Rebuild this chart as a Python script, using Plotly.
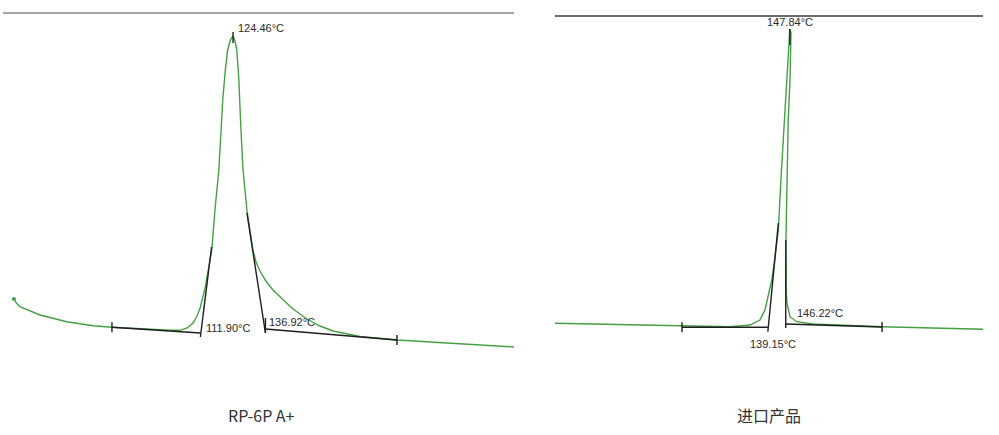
import plotly.graph_objects as go

# DSC curves: temperature (°C) vs heat flow (arb. units)

# left sample: RP-6P A+
left_temp = [40.2, 41.0, 42.5, 50.2, 60.5, 70.7, 77.9, 92.5, 100.2, 104.1, 106.8, 109.1,
             110.6, 111.8, 113.7, 116.3, 117.5, 119.0, 119.9, 120.5, 121.5, 122.4, 123.4,
             124.46, 125.2, 125.9, 126.7, 127.1, 127.5, 128.3, 129.8, 132.1, 133.3, 134.8,
             137.1, 139.8, 143.7, 147.5, 152.9, 157.9, 162.9, 173.3, 187.5, 207.9, 232.5]
left_flow = [13.6, 13.25, 12.83, 12.0, 11.33, 10.93, 10.77, 10.55, 10.47, 10.47, 10.7, 11.2,
             11.9, 12.7, 14.7, 18.5, 22.5, 26.5, 30.5, 33.5, 36.5, 38.5, 39.5,
             39.9, 39.4, 38.5, 35.5, 32.5, 30.5, 26.5, 22.5, 18.5, 17.3, 16.4,
             15.4, 14.5, 13.5, 12.6, 11.6, 10.9, 10.4, 9.85, 9.5, 9.15, 8.8]

# tangent / baseline construction (None = break)
left_fit_temp = [77.9, 111.9, None, 77.9, 77.9, None, 111.9, 116.2, None,
                 129.8, 136.92, None, 136.92, 136.92, None, 136.92, 187.5, None,
                 187.5, 187.5, None, 124.46, 124.46]
left_fit_flow = [10.77, 10.2, None, 10.27, 11.27, None, 9.8, 18.8, None,
                 22.2, 10.2, None, 10.2, 11.7, None, 10.6, 9.5, None,
                 9.0, 10.0, None, 39.2, 40.3]

left_labels = ["124.46°C", "111.90°C", "136.92°C"]
left_label_temp = [125.6, 113.3, 137.5]
left_label_flow = [40.7, 10.7, 11.3]

# right sample: imported product
right_temp = [55.0, 80.7, 105.2, 124.2, 132.1, 136.0, 138.0, 139.3, 140.7, 142.0, 143.3,
              144.3, 145.5, 146.7, 147.5, 147.84, 148.3, 147.9, 147.2, 146.7, 146.3,
              146.4, 146.7, 147.9, 150.5, 157.0, 171.6, 184.3, 224.2]
right_flow = [11.17, 11.07, 10.95, 10.83, 11.0, 11.5, 12.5, 13.8, 15.5, 17.8, 20.5,
              25.5, 30.5, 35.5, 39.0, 40.6, 40.2, 35.5, 31.5, 25.5, 19.5,
              14.5, 13.2, 11.83, 11.33, 11.1, 10.93, 10.83, 10.57]

right_fit_temp = [105.2, 139.15, None, 105.2, 105.2, None, 139.15, 143.3, None,
                  146.22, 146.25, None, 146.22, 184.3, None, 184.3, 184.3, None,
                  147.84, 147.84]
right_fit_flow = [10.77, 10.77, None, 10.27, 11.27, None, 10.33, 21.2, None,
                  10.7, 19.5, None, 11.1, 10.8, None, 10.3, 11.3, None,
                  39.0, 40.6]

right_labels = ["147.84°C", "146.22°C", "139.15°C"]
right_label_temp = [147.84, 149.9, 141.3]
right_label_flow = [41.35, 12.17, 9.1]

titles = ["RP-6P A+", "进口产品"]

green = "#45a045"
black = "#1e1e1e"

fig = go.Figure()
fig.add_trace(go.Scatter(x=left_temp, y=left_flow, mode="lines",
                         line=dict(color=green, width=1.4),
                         xaxis="x", yaxis="y"))
fig.add_trace(go.Scatter(x=left_temp[:1], y=left_flow[:1], mode="markers",
                         marker=dict(color=green, size=4), xaxis="x", yaxis="y"))
fig.add_trace(go.Scatter(x=left_fit_temp, y=left_fit_flow, mode="lines",
                         line=dict(color=black, width=1.4), xaxis="x", yaxis="y"))
fig.add_trace(go.Scatter(x=right_temp, y=right_flow, mode="lines",
                         line=dict(color=green, width=1.4),
                         xaxis="x2", yaxis="y2"))
fig.add_trace(go.Scatter(x=right_fit_temp, y=right_fit_flow, mode="lines",
                         line=dict(color=black, width=1.4), xaxis="x2", yaxis="y2"))

ann = []
lab_font = dict(family="Liberation Sans, Arial", size=11, color="#2a2a2a")
for t, x, y in zip(left_labels, left_label_temp, left_label_flow):
    ann.append(dict(text=t, x=x, y=y, xref="x", yref="y", xanchor="left",
                    yanchor="middle", showarrow=False, font=lab_font))
for i, (t, x, y) in enumerate(zip(right_labels, right_label_temp, right_label_flow)):
    ann.append(dict(text=t, x=x, y=y, xref="x2", yref="y2",
                    xanchor="left" if i == 1 else "center",
                    yanchor="middle", showarrow=False, font=lab_font))
for t, x in zip(titles, [261 / 999, 769 / 999]):
    ann.append(dict(text=t, x=x, y=20 / 435, xref="paper", yref="paper",
                    xanchor="center", yanchor="middle", showarrow=False,
                    font=dict(family="Noto Sans CJK SC", size=16, color="#333333")))

axis_common = dict(side="top", showline=True, showgrid=False, zeroline=False,
                   showticklabels=False, ticks="")
fig.update_layout(
    width=999, height=435,
    margin=dict(l=0, r=0, t=0, b=0),
    paper_bgcolor="white", plot_bgcolor="white",
    showlegend=False,
    xaxis=dict(domain=[3 / 999, 514 / 999], range=[36, 232.5], anchor="y",
               linecolor="#a6a6a6", linewidth=2, **axis_common),
    yaxis=dict(domain=[0, 1 - 14 / 435], range=[0, 42.1], visible=False, anchor="x"),
    xaxis2=dict(domain=[555 / 999, 983 / 999], range=[55.0, 224.2], anchor="y2",
                linecolor="#6a6a6a", linewidth=1.5, **axis_common),
    yaxis2=dict(domain=[0, 1 - 17 / 435], range=[0, 41.8], visible=False, anchor="x2"),
    annotations=ann,
)

# drop the browser's default page margin so the figure sits at the window corner
fig.write_html("out.html", config={"displayModeBar": False},
               post_script="document.body.style.margin='0';")
